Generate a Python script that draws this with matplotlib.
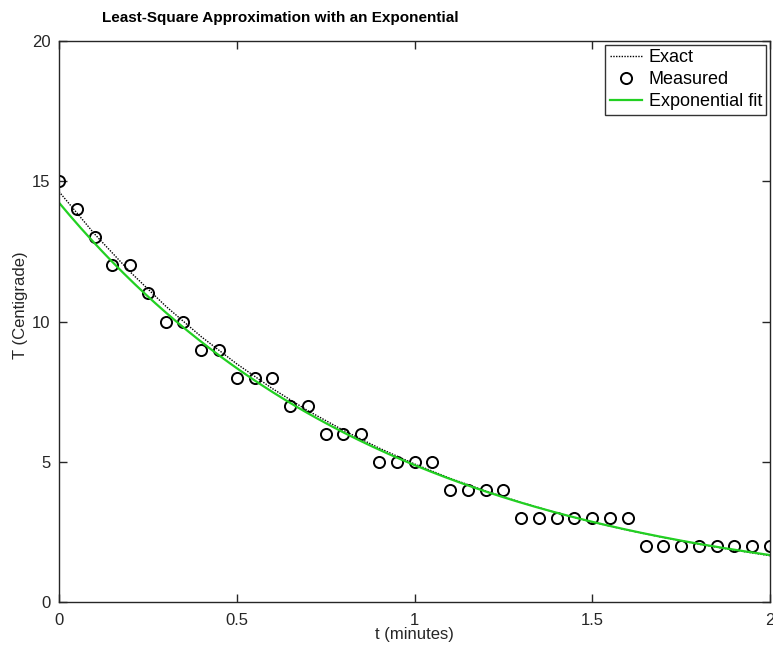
import numpy as np
import matplotlib
matplotlib.use("Agg")
import matplotlib.pyplot as plt

plt.rcParams['font.family'] = ['Liberation Sans', 'DejaVu Sans']

# measured temperatures, one sample every 0.05 min
t_meas = [0.00, 0.05, 0.10, 0.15, 0.20, 0.25, 0.30, 0.35, 0.40, 0.45,
          0.50, 0.55, 0.60, 0.65, 0.70, 0.75, 0.80, 0.85, 0.90, 0.95,
          1.00, 1.05, 1.10, 1.15, 1.20, 1.25, 1.30, 1.35, 1.40, 1.45,
          1.50, 1.55, 1.60, 1.65, 1.70, 1.75, 1.80, 1.85, 1.90, 1.95, 2.00]
T_meas = [15, 14, 13, 12, 12, 11, 10, 10, 9, 9,
          8, 8, 8, 7, 7, 6, 6, 6, 5, 5,
          5, 5, 4, 4, 4, 4, 3, 3, 3, 3,
          3, 3, 3, 2, 2, 2, 2, 2, 2, 2, 2]

# exact cooling curve
t_exact = [0.0, 0.1, 0.2, 0.3, 0.4, 0.5, 0.6, 0.7, 0.8, 0.9, 1.0,
           1.1, 1.2, 1.3, 1.4, 1.5, 1.6, 1.7, 1.8, 1.9, 2.0]
T_exact = [14.63, 13.12, 11.77, 10.55, 9.46, 8.49, 7.61, 6.82, 6.12, 5.49, 4.92,
           4.41, 3.96, 3.55, 3.18, 2.85, 2.56, 2.30, 2.06, 1.85, 1.65]

# least-squares fit of log(T) = log(a) + b t
b, loga = np.polyfit(t_meas, np.log(T_meas), 1)
t_fit = np.linspace(0, 2, 200)
T_fit = np.exp(loga) * np.exp(b * t_fit)

fig = plt.figure(figsize=(7.73, 6.5), dpi=100)
ax = fig.add_axes([59 / 773, 48 / 650, 711 / 773, 561 / 650])

ax.plot(t_exact, T_exact, color='black', linestyle=(0, (1, 1)), linewidth=1.0, label='Exact')
ax.plot(t_meas, T_meas, 'o', markerfacecolor='none', markeredgecolor='black',
        markersize=8, markeredgewidth=1.4, label='Measured')
ax.plot(t_fit, T_fit, color='#22d022', linewidth=1.6, label='Exponential fit')

ax.set_xlim(0, 2)
ax.set_ylim(0, 20)
ax.set_xticks([0, 0.5, 1, 1.5, 2])
ax.set_xticklabels(['0', '0.5', '1', '1.5', '2'])
ax.set_yticks([0, 5, 10, 15, 20])
ax.tick_params(direction='in', length=6, width=1, top=True, right=True,
               labelsize=12, colors='#262626')
ax.tick_params(axis='x', pad=8)
ax.tick_params(axis='y', pad=6)
for s in ax.spines.values():
    s.set_linewidth(1.0)
    s.set_color('#262626')

ax.set_xlabel('t (minutes)', fontsize=12, color='#262626')
ax.xaxis.set_label_coords(0.5, -0.058)
ax.xaxis.label.set_va('center')
ax.set_ylabel('T (Centigrade)', fontsize=12, color='#262626')
ax.yaxis.set_label_coords(-0.054, 0.529)
ax.yaxis.label.set_va('center')

ax.text(0.311, 1.041, 'Least-Square Approximation with an Exponential',
        transform=ax.transAxes, ha='center', va='center', fontsize=11,
        fontweight='bold')

leg = ax.legend(loc='upper right', fontsize=13, frameon=True, fancybox=False,
                borderaxespad=0.2, handlelength=1.8, handletextpad=0.35,
                labelspacing=0.28, borderpad=0.25)
leg.get_frame().set_edgecolor('black')
leg.get_frame().set_linewidth(1.0)

fig.savefig('out.png', dpi=100)
